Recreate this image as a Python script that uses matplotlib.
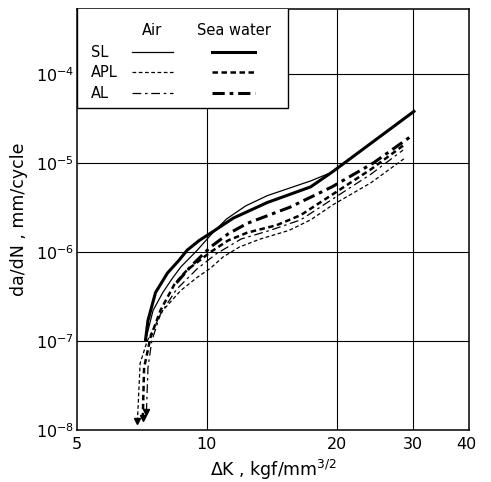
import matplotlib
matplotlib.use("Agg")
import matplotlib.pyplot as plt
from matplotlib.lines import Line2D
from matplotlib.patches import Rectangle

# ---- data ----
sl_sea_x = [7.2, 7.3, 7.6, 8.1, 8.6, 9.0, 9.6, 10.2, 11.5, 13.8, 17.4, 19.5, 30.4]
sl_sea_y = [1.0e-7, 1.7e-7, 3.5e-7, 5.8e-7, 8.0e-7, 1.05e-6, 1.35e-6, 1.63e-6, 2.4e-6, 3.6e-6, 5.4e-6, 7.9e-6, 3.9e-5]

sl_air_x = [7.2, 7.5, 7.9, 8.3, 8.7, 9.5, 10.2, 11.1, 12.3, 13.8, 17.4, 19.5]
sl_air_y = [1.0e-7, 2.2e-7, 3.5e-7, 5.0e-7, 6.8e-7, 1.05e-6, 1.55e-6, 2.35e-6, 3.3e-6, 4.3e-6, 6.3e-6, 7.9e-6]

al_sea_x = [8.5, 9.2, 10.2, 11.2, 12.4, 15.6, 19.5, 24.3, 30.0]
al_sea_y = [4.5e-7, 7.0e-7, 1.14e-6, 1.6e-6, 2.1e-6, 3.2e-6, 5.4e-6, 1.0e-5, 2.06e-5]

apl_sea_x = [7.1, 7.15, 7.4, 7.8, 8.4, 9.0, 10.2, 11.2, 12.4, 14.5, 16.5, 19.5, 24.0, 28.9]
apl_sea_y = [1.35e-8, 5.0e-8, 1.1e-7, 2.2e-7, 4.3e-7, 6.3e-7, 1.0e-6, 1.35e-6, 1.65e-6, 2.0e-6, 2.6e-6, 4.4e-6, 8.5e-6, 1.65e-5]

al_air_x = [7.24, 7.3, 7.45, 7.8, 8.5, 9.5, 10.5, 12.0, 14.0, 16.5, 19.5, 24.0, 28.5]
al_air_y = [1.6e-8, 5.0e-8, 1.0e-7, 2.0e-7, 3.8e-7, 6.5e-7, 9.5e-7, 1.4e-6, 1.75e-6, 2.3e-6, 3.9e-6, 7.5e-6, 1.4e-5]

apl_air_x = [6.9, 7.0, 7.27, 7.9, 8.7, 9.5, 10.2, 10.9, 11.9, 13.3, 15.5, 17.4, 19.6, 24.0, 28.8]
apl_air_y = [1.25e-8, 5.6e-8, 1.0e-7, 2.2e-7, 3.7e-7, 5.2e-7, 6.6e-7, 8.8e-7, 1.14e-6, 1.4e-6, 1.75e-6, 2.3e-6, 3.4e-6, 6.0e-6, 1.14e-5]

x_ticks = [5, 10, 20, 30, 40]
y_ticks = [1e-8, 1e-7, 1e-6, 1e-5, 1e-4]
row_labels = ["SL", "APL", "AL"]
col_labels = ["Air", "Sea water"]

# ---- styles ----
THIN, THICK = 0.9, 2.2
sty = {
    ("SL", "Air"): dict(lw=THIN, ls="-"),
    ("SL", "Sea water"): dict(lw=THICK, ls="-"),
    ("APL", "Air"): dict(lw=THIN, ls=(0, (3, 2))),
    ("APL", "Sea water"): dict(lw=1.8, ls=(0, (2.2, 1.4))),
    ("AL", "Air"): dict(lw=THIN, ls=(0, (7, 3, 2, 3))),
    ("AL", "Sea water"): dict(lw=THICK, ls=(0, (4, 1.6, 1.2, 1.6))),
}
series = [
    (("SL", "Air"), sl_air_x, sl_air_y, False),
    (("SL", "Sea water"), sl_sea_x, sl_sea_y, False),
    (("APL", "Air"), apl_air_x, apl_air_y, True),
    (("APL", "Sea water"), apl_sea_x, apl_sea_y, True),
    (("AL", "Air"), al_air_x, al_air_y, True),
    (("AL", "Sea water"), al_sea_x, al_sea_y, False),
]

plt.rcParams["font.family"] = ["DejaVu Sans"]
plt.rcParams["mathtext.fontset"] = "dejavusans"
fig = plt.figure(figsize=(4.91, 4.82), dpi=100)
ax = fig.add_axes([0.157, 0.108, 0.798, 0.873])
ax.set_xscale("log")
ax.set_yscale("log")
ax.set_xlim(5, 40.5)
ax.set_ylim(1e-8, 10 ** -3.27)

# grid
for xv in x_ticks[1:4]:
    ax.axvline(xv, color="black", lw=0.8, zorder=1)
for yv in y_ticks[1:]:
    ax.axhline(yv, color="black", lw=0.8, zorder=1)

for key, xs, ys, arrow in series:
    ax.plot(xs, ys, color="black", zorder=3, solid_capstyle="butt", solid_joinstyle="round", **sty[key])
    if arrow:
        ax.plot([xs[0]], [ys[0]], marker="v", color="black", ms=4, zorder=3)

ax.set_xticks(x_ticks)
ax.set_xticklabels([str(v) for v in x_ticks])
ax.xaxis.set_minor_locator(matplotlib.ticker.NullLocator())
ax.yaxis.set_minor_locator(matplotlib.ticker.NullLocator())
ax.set_yticks(y_ticks)
ax.tick_params(length=0, labelsize=11.5)
ax.tick_params(axis="y", pad=2)
ax.tick_params(axis="x", pad=5)
for s in ax.spines.values():
    s.set_linewidth(1.1)

ax.set_xlabel("ΔK , kgf/mm$^{3/2}$", fontsize=12.5, labelpad=4)
ax.set_ylabel("da/dN , mm/cycle", fontsize=12.5, labelpad=6)

# legend box (manual, table-like)
tr = ax.transAxes
ax.add_patch(Rectangle((0, 0.765), 0.538, 0.3, transform=tr, facecolor="white",
                       edgecolor="black", lw=1.0, zorder=5))
ax.text(0.191, 0.950, col_labels[0], transform=tr, ha="center", va="center", fontsize=10.5, zorder=6)
ax.text(0.401, 0.950, col_labels[1], transform=tr, ha="center", va="center", fontsize=10.5, zorder=6)
row_y = [0.898, 0.850, 0.800]
col_x = [(0.14, 0.245), (0.344, 0.454)]
for r, yy in zip(row_labels, row_y):
    ax.text(0.035, yy, r, transform=tr, ha="left", va="center", fontsize=10.5, zorder=6)
    for c, (x0, x1) in zip(col_labels, col_x):
        ax.add_line(Line2D([x0, x1], [yy, yy], transform=tr, color="black", zorder=6, **sty[(r, c)]))

fig.savefig("out.png", dpi=100)
